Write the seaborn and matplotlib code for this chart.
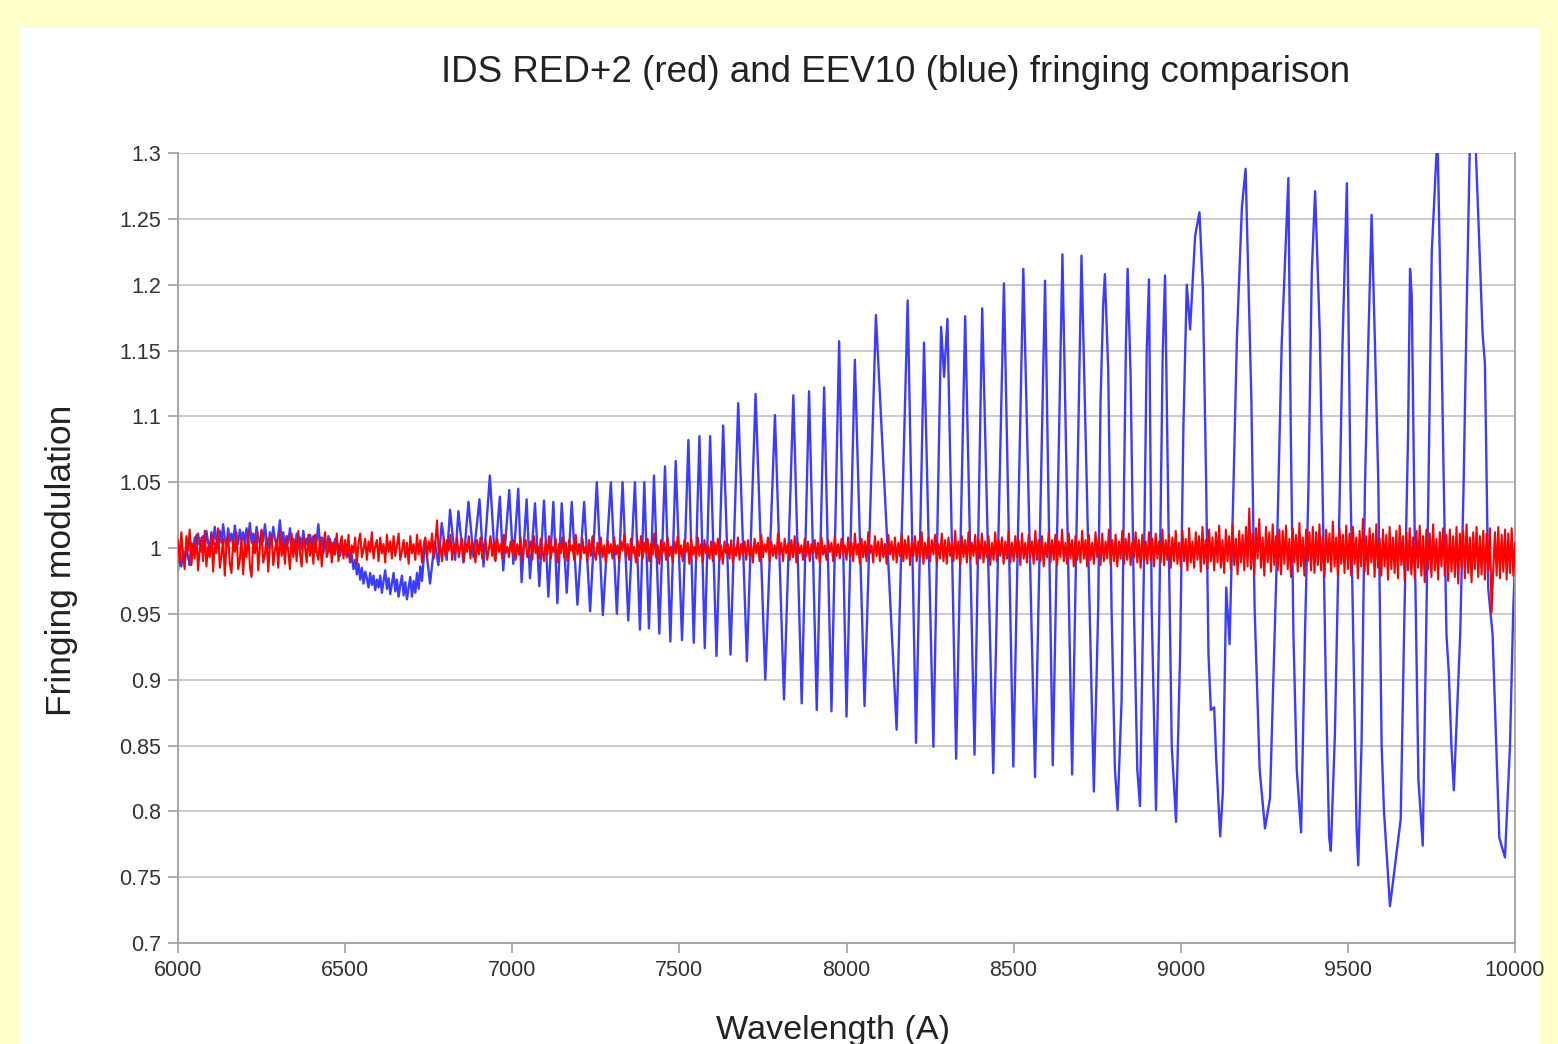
import numpy as np
import pandas as pd
import matplotlib
matplotlib.use("Agg")
import matplotlib.pyplot as plt
import seaborn as sns

# ── data ───────────────────────────────────────────────────
# EEV10 (blue): flat noisy stretch 6000-6735 A, one value every 5 A
BLUE_FLAT = [
    0.983, 0.992, 0.986, 0.998, 0.989, 1.001, 0.993, 0.987, 1.004, 0.995, 1.008, 0.998, 1.011, 1.002, 0.997, 1.009, 1.001, 1.013, 1.004, 0.999,
    1.012, 1.003, 1.016, 1.006, 1.000, 1.013, 1.004, 1.018, 1.007, 1.001, 1.015, 1.005, 1.011, 1.002, 1.017, 1.008, 1.003, 1.014, 1.006, 1.012,
    1.002, 1.015, 1.007, 1.019, 1.004, 1.011, 1.001, 1.016, 1.008, 1.003, 1.013, 1.005, 1.018, 1.006, 1.000, 1.012, 1.004, 1.016, 1.007, 1.002,
    1.010, 1.021, 1.003, 1.012, 0.999, 1.009, 1.004, 1.015, 1.001, 1.007, 0.998, 1.011, 1.003, 1.008, 0.999, 1.013, 1.002, 1.007, 1.000, 1.010,
    1.003, 1.009, 0.997, 1.006, 1.018, 1.001, 1.008, 0.996, 1.005, 1.000, 1.009, 0.997, 1.004, 0.995, 1.007, 0.999, 1.003, 0.994, 1.002, 0.997,
    1.001, 0.993, 0.998, 0.989, 0.995, 0.984, 0.991, 0.980, 0.988, 0.976, 0.985, 0.973, 0.982, 0.977, 0.970, 0.981, 0.972, 0.979, 0.968, 0.976,
    0.970, 0.979, 0.966, 0.975, 0.983, 0.969, 0.977, 0.965, 0.973, 0.981, 0.967, 0.976, 0.963, 0.972, 0.979, 0.964, 0.974, 0.961, 0.970, 0.978,
    0.963, 0.975, 0.966, 0.981, 0.969, 0.986, 0.975, 0.992,
]

# EEV10 fringes: (wavelength, modulation) at peaks, troughs and flanks
BLUE_FRINGE = [
    (6739, 1.007), (6754, 0.973), (6768, 1.005), (6779, 0.987), (6789, 1.019),
    (6804, 0.991), (6814, 1.029), (6829, 0.991), (6839, 1.028), (6854, 0.989),
    (6869, 1.035), (6884, 0.993), (6902, 1.037), (6914, 0.986), (6933, 1.055),
    (6948, 0.991), (6963, 1.039), (6973, 0.983), (6991, 1.044), (7003, 0.988),
    (7018, 1.045), (7028, 0.974), (7043, 1.037), (7053, 0.977), (7068, 1.034),
    (7081, 0.971), (7095, 1.036), (7108, 0.963), (7123, 1.035), (7135, 0.958),
    (7148, 1.034), (7163, 0.966), (7178, 1.035), (7195, 0.957), (7215, 1.035),
    (7233, 0.952), (7253, 1.050), (7271, 0.949), (7295, 1.050), (7313, 0.950),
    (7330, 1.050), (7347, 0.945), (7367, 1.050), (7382, 0.938), (7395, 1.050),
    (7409, 0.939), (7424, 1.055), (7440, 0.935), (7457, 1.062), (7473, 0.929),
    (7489, 1.066), (7508, 0.930), (7527, 1.082), (7543, 0.928), (7560, 1.085),
    (7576, 0.924), (7592, 1.085), (7611, 0.918), (7631, 1.093), (7653, 0.919),
    (7676, 1.110), (7702, 0.914), (7728, 1.117), (7757, 0.900), (7786, 1.101),
    (7813, 0.885), (7841, 1.116), (7866, 0.882), (7888, 1.119), (7911, 0.877),
    (7933, 1.122), (7955, 0.876), (7978, 1.157), (8000, 0.872), (8025, 1.143),
    (8054, 0.880), (8088, 1.177), (8150, 0.862), (8183, 1.188), (8208, 0.852),
    (8232, 1.156), (8260, 0.849), (8283, 1.168), (8292, 1.130), (8302, 1.174),
    (8328, 0.840), (8355, 1.176), (8383, 0.843), (8406, 1.182), (8439, 0.829),
    (8471, 1.201), (8499, 0.834), (8529, 1.212), (8564, 0.826), (8594, 1.203),
    (8617, 0.835), (8646, 1.223), (8675, 0.828), (8703, 1.222), (8740, 0.815),
    (8753, 0.954), (8760, 1.111), (8768, 1.185), (8773, 1.208), (8783, 1.135),
    (8793, 0.954), (8803, 0.832), (8811, 0.801), (8823, 0.884), (8830, 1.041),
    (8836, 1.155), (8841, 1.212), (8850, 1.131), (8860, 0.954), (8870, 0.832),
    (8878, 0.804), (8890, 0.989), (8898, 1.147), (8905, 1.204), (8913, 0.954),
    (8926, 0.801), (8936, 0.954), (8946, 1.147), (8953, 1.207), (8963, 1.024),
    (8973, 0.850), (8986, 0.792), (8998, 0.919), (9008, 1.093), (9018, 1.200),
    (9028, 1.166), (9043, 1.237), (9056, 1.255), (9066, 1.198), (9076, 1.050),
    (9083, 0.919), (9090, 0.877), (9100, 0.879), (9106, 0.840), (9118, 0.781),
    (9126, 0.815), (9136, 0.970), (9146, 0.927), (9158, 1.050), (9168, 1.160),
    (9183, 1.259), (9194, 1.288), (9201, 1.218), (9211, 1.116), (9221, 0.954),
    (9236, 0.832), (9252, 0.787), (9267, 0.810), (9287, 0.989), (9302, 1.155),
    (9322, 1.281), (9329, 1.093), (9337, 0.936), (9347, 0.832), (9360, 0.784),
    (9372, 0.938), (9382, 1.045), (9392, 1.210), (9402, 1.271), (9416, 1.163),
    (9424, 1.048), (9434, 0.897), (9444, 0.780), (9449, 0.770), (9461, 0.857),
    (9476, 1.045), (9484, 1.155), (9497, 1.277), (9508, 1.045), (9516, 0.934),
    (9526, 0.787), (9531, 0.759), (9541, 0.853), (9551, 1.045), (9561, 1.155),
    (9571, 1.253), (9581, 1.155), (9591, 1.050), (9601, 0.850), (9608, 0.800),
    (9626, 0.728), (9658, 0.794), (9668, 0.934), (9680, 1.085), (9686, 1.212),
    (9691, 1.192), (9701, 0.989), (9711, 0.824), (9724, 0.774), (9734, 0.934),
    (9741, 1.045), (9751, 1.225), (9768, 1.315), (9780, 1.155), (9787, 1.048),
    (9795, 0.934), (9802, 0.905), (9810, 0.848), (9817, 0.816), (9836, 0.934),
    (9846, 1.045), (9856, 1.190), (9866, 1.320), (9880, 1.320), (9890, 1.253),
    (9903, 1.163), (9910, 1.140), (9920, 0.969), (9933, 0.934), (9943, 0.856),
    (9953, 0.780), (9970, 0.765), (9985, 0.850), (9995, 0.955), (10000, 0.989),
]

# IDS RED+2 (red): 6000-10000 A, one value every 5 A
RED_VAL = [
    1.006, 0.989, 1.012, 0.995, 0.984, 1.009, 0.998, 1.014, 0.987, 1.003, 0.992, 1.010, 0.983, 0.999, 1.008, 0.990, 1.013, 0.986, 1.001, 0.993,
    1.011, 0.982, 1.004, 0.996, 1.015, 0.985, 0.994, 1.007, 0.979, 1.002, 1.010, 0.988, 0.981, 1.006, 0.997, 1.012, 0.984, 0.991, 1.008, 0.980,
    1.003, 0.993, 1.013, 0.986, 0.978, 1.005, 0.996, 1.011, 0.983, 1.000, 1.014, 0.989, 0.995, 1.008, 0.982, 1.002, 1.010, 0.987, 0.998, 1.006,
    0.985, 1.012, 0.994, 1.004, 0.988, 1.009, 0.997, 0.984, 1.011, 0.993, 1.006, 0.990, 1.013, 0.996, 0.986, 1.008, 1.001, 0.989, 1.010, 0.994,
    1.005, 0.988, 1.010, 0.997, 0.991, 1.008, 0.986, 1.003, 1.012, 0.993, 0.999, 1.007, 0.989, 1.004, 0.995, 1.011, 0.990, 1.002, 1.009, 0.992,
    1.006, 0.994, 1.010, 0.990, 1.002, 0.996, 1.008, 0.988, 1.004, 1.011, 0.993, 0.999, 1.007, 0.991, 1.005, 0.997, 1.012, 0.992, 1.001, 1.006,
    0.990, 1.008, 0.996, 1.003, 0.989, 1.010, 0.997, 1.005, 0.992, 1.009, 0.994, 1.002, 1.011, 0.991, 0.998, 1.006, 0.993, 1.004, 0.988, 1.009,
    0.996, 1.003, 0.991, 1.010, 0.995, 1.006, 0.989, 1.002, 1.008, 0.993, 1.005, 0.997, 1.011, 0.992, 1.004, 1.021, 0.996, 1.001, 0.990, 1.007,
    0.994, 1.006, 0.998, 1.010, 0.991, 1.003, 0.996, 1.008, 0.993, 1.001, 1.007, 0.990, 1.004, 0.997, 1.009, 0.992, 1.005, 0.999, 0.989, 1.006,
    0.995, 1.008, 0.992, 1.002, 1.006, 0.991, 0.999, 1.009, 0.994, 1.004, 0.990, 1.007, 0.997, 1.003, 0.992, 1.010, 0.996, 1.001, 0.993, 1.005,
    0.997, 1.006, 0.991, 1.003, 0.995, 1.008, 0.990, 1.002, 1.006, 0.993, 0.999, 1.005, 0.991, 1.009, 0.996, 1.002, 0.992, 1.007, 0.998, 0.990,
    1.005, 0.995, 1.009, 0.992, 1.001, 0.997, 1.007, 0.989, 1.003, 0.996, 1.008, 0.993, 1.004, 0.990, 1.006, 0.998, 1.002, 0.991, 1.010, 0.995,
    1.003, 0.992, 1.007, 0.996, 1.001, 0.990, 1.006, 0.994, 1.009, 0.997, 0.991, 1.004, 0.995, 1.008, 0.993, 1.002, 0.989, 1.006, 0.996, 1.003,
    0.992, 1.008, 0.995, 1.002, 0.990, 1.005, 0.998, 1.010, 0.993, 1.003, 0.991, 1.007, 0.996, 1.001, 0.989, 1.006, 0.994, 1.009, 0.992, 1.004,
    0.996, 1.007, 0.990, 1.003, 0.995, 1.011, 0.993, 1.002, 0.988, 1.006, 0.997, 1.004, 0.991, 1.008, 0.994, 1.001, 0.989, 1.005, 0.996, 1.009,
    0.993, 1.002, 0.990, 1.006, 0.997, 1.004, 0.988, 1.007, 0.995, 1.001, 0.991, 1.008, 0.994, 1.003, 0.989, 1.006, 0.996, 1.002, 0.992, 1.005,
    0.990, 1.004, 0.995, 1.007, 0.991, 1.002, 0.988, 1.005, 0.996, 1.003, 0.992, 1.006, 0.989, 1.001, 0.994, 1.008, 0.991, 1.003, 0.995, 1.005,
    0.991, 1.006, 0.994, 1.002, 0.989, 1.007, 0.996, 1.004, 0.990, 1.010, 0.993, 1.003, 0.997, 1.008, 0.990, 1.005, 0.994, 1.002, 0.992, 1.011,
    0.995, 1.004, 0.990, 1.007, 0.996, 1.003, 0.991, 1.006, 0.993, 1.009, 0.989, 1.004, 0.996, 1.002, 0.991, 1.007, 0.994, 1.005, 0.990, 1.003,
    0.996, 1.006, 0.992, 1.004, 0.989, 1.008, 0.995, 1.002, 0.991, 1.006, 0.997, 1.004, 0.990, 1.009, 0.994, 1.003, 0.992, 1.007, 0.996, 1.002,
    0.991, 1.008, 0.994, 1.004, 0.990, 1.011, 0.995, 1.003, 0.988, 1.007, 0.993, 1.005, 0.990, 1.012, 0.996, 1.002, 0.989, 1.009, 0.994, 1.005,
    0.990, 1.007, 0.993, 1.003, 0.988, 1.010, 0.995, 1.005, 0.991, 1.008, 0.989, 1.004, 0.994, 1.011, 0.990, 1.006, 0.992, 1.009, 0.987, 1.004,
    0.994, 1.009, 0.990, 1.005, 0.993, 1.012, 0.988, 1.004, 0.992, 1.008, 0.990, 1.006, 0.995, 1.010, 0.989, 1.003, 0.992, 1.011, 0.990, 1.006,
    0.988, 1.008, 0.994, 1.004, 0.990, 1.013, 0.992, 1.005, 0.987, 1.009, 0.993, 1.006, 0.989, 1.012, 0.991, 1.004, 0.994, 1.010, 0.988, 1.006,
    0.992, 1.011, 0.989, 1.005, 0.993, 1.009, 0.987, 1.004, 0.991, 1.012, 0.990, 1.006, 0.994, 1.008, 0.988, 1.005, 0.992, 1.013, 0.989, 1.004,
    0.990, 1.009, 0.993, 1.006, 0.987, 1.011, 0.992, 1.004, 0.989, 1.010, 0.994, 1.005, 0.988, 1.013, 0.991, 1.006, 0.990, 1.009, 0.986, 1.004,
    0.993, 1.012, 0.989, 1.006, 0.991, 1.010, 0.987, 1.005, 0.993, 1.014, 0.990, 1.004, 0.988, 1.011, 0.992, 1.006, 0.986, 1.009, 0.991, 1.005,
    0.989, 1.013, 0.992, 1.006, 0.986, 1.010, 0.991, 1.004, 0.988, 1.012, 0.993, 1.007, 0.987, 1.011, 0.990, 1.005, 0.992, 1.014, 0.988, 1.006,
    0.990, 1.010, 0.986, 1.005, 0.992, 1.013, 0.988, 1.007, 0.991, 1.011, 0.987, 1.004, 0.993, 1.012, 0.989, 1.006, 0.985, 1.010, 0.991, 1.005,
    0.988, 1.012, 0.991, 1.007, 0.986, 1.011, 0.992, 1.005, 0.989, 1.014, 0.987, 1.006, 0.991, 1.010, 0.985, 1.008, 0.990, 1.013, 0.988, 1.004,
    0.986, 1.013, 0.990, 1.007, 0.983, 1.015, 0.989, 1.005, 0.985, 1.012, 0.991, 1.009, 0.982, 1.016, 0.988, 1.006, 0.984, 1.014, 0.990, 1.008,
    0.983, 1.012, 0.989, 1.017, 0.985, 1.006, 0.981, 1.014, 0.990, 1.009, 0.984, 1.018, 0.987, 1.007, 0.980, 1.013, 0.989, 1.010, 0.983, 1.016,
    0.986, 1.030, 0.984, 1.011, 0.980, 1.015, 0.992, 1.022, 0.985, 1.008, 0.979, 1.016, 0.989, 1.012, 0.982, 1.018, 0.987, 1.009, 0.983, 1.014,
    0.980, 1.013, 0.988, 1.017, 0.984, 1.007, 0.978, 1.015, 0.989, 1.010, 0.982, 1.019, 0.986, 1.008, 0.979, 1.014, 0.990, 1.012, 0.983, 1.016,
    0.981, 1.012, 0.987, 1.018, 0.983, 1.009, 0.978, 1.014, 0.989, 1.011, 0.982, 1.020, 0.986, 1.008, 0.979, 1.015, 0.988, 1.010, 0.981, 1.017,
    0.984, 1.011, 0.979, 1.016, 0.988, 1.008, 0.977, 1.013, 0.986, 1.022, 0.982, 1.009, 0.980, 1.015, 0.989, 1.011, 0.978, 1.018, 0.985, 1.007,
    0.979, 1.014, 0.986, 1.010, 0.976, 1.016, 0.984, 1.008, 0.981, 1.013, 0.977, 1.017, 0.987, 1.009, 0.975, 1.012, 0.983, 1.015, 0.980, 1.008,
    0.977, 1.013, 0.985, 1.017, 0.979, 1.009, 0.974, 1.014, 0.984, 1.011, 0.978, 1.018, 0.983, 1.007, 0.976, 1.012, 0.986, 1.015, 0.979, 1.010,
    0.975, 1.014, 0.982, 1.009, 0.978, 1.016, 0.973, 1.011, 0.985, 1.013, 0.977, 1.018, 0.981, 1.008, 0.974, 1.012, 0.984, 1.016, 0.978, 1.009,
    0.980, 1.013, 0.976, 1.011, 0.983, 1.015, 0.951, 0.985, 1.012, 0.979, 1.016, 0.977, 1.010, 0.982, 1.014, 0.976, 1.011, 0.981, 1.015, 0.979,
    1.004,
]

X_TICKS = [6000, 6500, 7000, 7500, 8000, 8500, 9000, 9500, 10000]
Y_TICKS = [0.7, 0.75, 0.8, 0.85, 0.9, 0.95, 1.0, 1.05, 1.1, 1.15, 1.2, 1.25, 1.3]
Y_LABELS = ["0.7", "0.75", "0.8", "0.85", "0.9", "0.95", "1",
            "1.05", "1.1", "1.15", "1.2", "1.25", "1.3"]

# ── tables ────────────────────────────────────────────────
flat_wl = np.linspace(6000, 6735, len(BLUE_FLAT))
fr_wl, fr_val = zip(*BLUE_FRINGE)
blue = pd.DataFrame({"wl": list(flat_wl) + list(fr_wl),
                     "val": BLUE_FLAT + list(fr_val)})
red = pd.DataFrame({"wl": np.linspace(6000, 10000, len(RED_VAL)), "val": RED_VAL})

# ── plot ──────────────────────────────────────────────────
sns.set_theme(style="white")
plt.rcParams["font.family"] = ["Liberation Sans", "DejaVu Sans"]

W, H = 1558, 1044
fig = plt.figure(figsize=(W / 100, H / 100), dpi=100, facecolor="#FFFFCC")
# white panel behind everything
fig.patches.append(plt.Rectangle((20 / W, 0), 1520 / W, 1 - 28 / H,
                                 transform=fig.transFigure, facecolor="white",
                                 edgecolor="none", zorder=-10))

ax = fig.add_axes([178 / W, 1 - 943 / H, (1515 - 178) / W, (943 - 153) / H])
ax.set_zorder(1)
ax.set_facecolor("white")

for y in Y_TICKS:
    ax.axhline(y, color="#C4C4C4", lw=1.2, zorder=0)

sns.lineplot(data=blue, x="wl", y="val", ax=ax, color="#3c3cff", lw=1.7,
             estimator=None, sort=False, zorder=2)
sns.lineplot(data=red, x="wl", y="val", ax=ax, color="#ff0000", lw=1.5,
             estimator=None, sort=False, zorder=3)

ax.set_xlim(6000, 10000)
ax.set_ylim(0.7, 1.3)
ax.set_xticks(X_TICKS)
ax.set_yticks(Y_TICKS)
ax.set_yticklabels(Y_LABELS)
ax.tick_params(axis="both", direction="out", length=7, width=1.2,
               color="#A0A0A0", labelsize=15.5, labelcolor="#333333")
ax.tick_params(axis="x", pad=5)
ax.tick_params(axis="y", pad=5)
ax.tick_params(left=True, bottom=True)
for side in ["left", "bottom", "right"]:
    ax.spines[side].set_color("#A0A0A0")
    ax.spines[side].set_linewidth(1.3)
ax.spines["top"].set_visible(False)
ax.set_xlabel("")
ax.set_ylabel("")

fig.text(896 / W, 1 - 73 / H, "IDS RED+2 (red) and EEV10 (blue) fringing comparison",
         ha="center", va="center", fontsize=26.5, color="#222222")
fig.text(833 / W, 1 - 1030 / H, "Wavelength (A)", ha="center", va="center",
         fontsize=24.6, color="#222222")
fig.text(62 / W, 1 - 560 / H, "Fringing modulation", ha="center", va="center",
         rotation=90, fontsize=25.5, color="#222222")

fig.savefig("out.png", dpi=100, facecolor=fig.get_facecolor())
